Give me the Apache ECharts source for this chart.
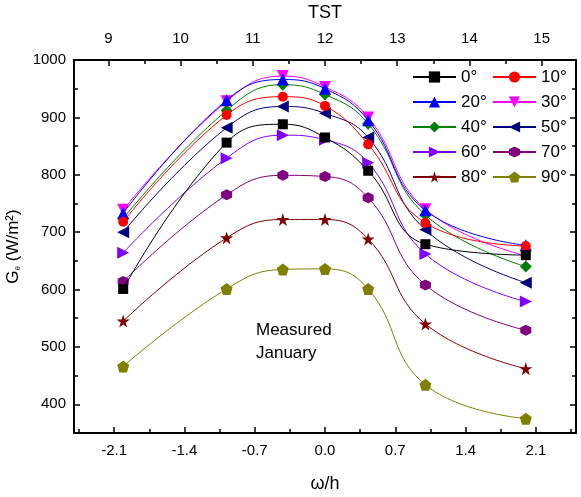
<!DOCTYPE html>
<html>
<head>
<meta charset="utf-8">
<script src="https://cdn.jsdelivr.net/npm/echarts@6/dist/echarts.min.js"></script>
<style>
  html, body { margin: 0; padding: 0; background: #fff; }
  #chart { width: 581px; height: 497px; }
</style>
</head>
<body>
<div id="chart"></div>
<script>
// Hour angle of each measurement (ω/h)
const omega = [-2.01, -0.98, -0.42, 0.0, 0.43, 1.0, 2.0];

// Measured irradiance on the tilted plane, W/m², one array per tilt angle
const g0  = [601, 856, 888, 865, 807, 679, 660];
const g10 = [718, 904, 936, 920, 853, 716, 676];
const g20 = [733, 930, 966, 950, 895, 738, 677];
const g30 = [739, 928, 972, 953, 900, 740, 659];
const g40 = [724, 912, 957, 940, 889, 730, 640];
const g50 = [700, 882, 919, 907, 865, 704, 612];
const g60 = [664, 829, 869, 861, 821, 662, 579];
const g70 = [614, 765, 799, 797, 760, 608, 529];
const g80 = [545, 690, 722, 722, 688, 540, 462];
const g90 = [466, 601, 635, 636, 601, 434, 375];

// Tilt angle labels
const tiltNames = ['0°', '10°', '20°', '30°', '40°', '50°', '60°', '70°', '80°', '90°'];

// Tick positions
const omegaTicks = [-2.1, -1.4, -0.7, 0.0, 0.7, 1.4, 2.1];
const omegaMinor = [-2.45, -1.75, -1.05, -0.35, 0.35, 1.05, 1.75, 2.45];
const tstTicks = [9, 10, 11, 12, 13, 14, 15];
const tstMinor = [9.5, 10.5, 11.5, 12.5, 13.5, 14.5];
const gTicks = [400, 500, 600, 700, 800, 900, 1000];
const gMinor = [450, 550, 650, 750, 850, 950];

const seriesValues = [g0, g10, g20, g30, g40, g50, g60, g70, g80, g90];

const colors = ['#000000', '#ff0000', '#0000ff', '#ff00ff', '#008000',
                '#000080', '#8000ff', '#800080', '#800000', '#808000'];

const star = 'path://M0,-1 L0.2245,-0.309 L0.951,-0.309 L0.363,0.118 L0.588,0.809 L0,0.382 L-0.588,0.809 L-0.363,0.118 L-0.951,-0.309 L-0.2245,-0.309 Z';
const pentagon = 'path://M0,-1 L0.951,-0.309 L0.588,0.809 L-0.588,0.809 L-0.951,-0.309 Z';
const hexagon = 'path://M0.866,-0.5 L0.866,0.5 L0,1 L-0.866,0.5 L-0.866,-0.5 L0,-1 Z';
const symbols = [
  'rect', 'circle', 'triangle',
  'path://M0,0 L2,0 L1,1.8 Z',
  'diamond',
  'path://M0,1 L1.8,0 L1.8,2 Z',
  'path://M0,0 L1.8,1 L0,2 Z',
  hexagon, star, pentagon
];
const sizes = [10, 10, 12, 12, 12, 12, 12, 11, 13, 12];

const FONT = 'Liberation Sans, Arial, sans-serif';

const series = seriesValues.map((vals, i) => ({
  name: tiltNames[i],
  type: 'line',
  xAxisIndex: 0,
  yAxisIndex: 0,
  data: omega.map((x, j) => [x, vals[j]]),
  smooth: 0.45,
  symbol: symbols[i],
  symbolSize: sizes[i],
  showAllSymbol: true,
  lineStyle: { color: colors[i], width: 1 },
  itemStyle: { color: colors[i] },
  emphasis: { disabled: true },
  animation: false,
  z: 2 + (9 - i) * 0.01
}));

const tickLine = { color: '#000', width: 1.5 };
const hiddenLine = { show: false, onZero: false };

function tickAxisBase(extra) {
  return Object.assign({
    type: 'value',
    splitLine: { show: false },
    axisLine: { show: true, onZero: false, lineStyle: { color: '#000', width: 2 } },
    axisTick: { show: true, inside: true, length: 6, lineStyle: tickLine },
    axisLabel: { show: false },
    gridIndex: 0
  }, extra);
}

const labelStyle = { fontFamily: FONT, fontSize: 15, color: '#000' };

const chart = echarts.init(document.getElementById('chart'), null, { renderer: 'canvas' });
chart.setOption({
  animation: false,
  backgroundColor: '#fff',
  grid: { left: 74, right: 5, top: 60, bottom: 64, containLabel: false, outerBoundsMode: 'none' },
  xAxis: [
    tickAxisBase({
      position: 'bottom', min: -2.5, max: 2.5,
      name: 'ω/h', nameLocation: 'middle', nameGap: 42,
      nameTextStyle: { fontFamily: FONT, fontSize: 18, color: '#000' },
      axisTick: { show: true, inside: true, length: 6, customValues: omegaTicks, lineStyle: tickLine },
      axisLabel: Object.assign({ show: true, customValues: omegaTicks, margin: 10,
                                 formatter: v => v.toFixed(1) }, labelStyle)
    }),
    tickAxisBase({
      position: 'bottom', min: -2.5, max: 2.5,
      axisLine: hiddenLine,
      axisTick: { show: true, inside: true, length: 4, customValues: omegaMinor, lineStyle: tickLine }
    }),
    tickAxisBase({
      position: 'top', min: 8.525, max: 15.475,
      name: 'TST', nameLocation: 'middle', nameGap: 38,
      nameTextStyle: { fontFamily: FONT, fontSize: 18, color: '#000' },
      axisTick: { show: true, inside: true, length: 6, customValues: tstTicks, lineStyle: tickLine },
      axisLabel: Object.assign({ show: true, customValues: tstTicks, margin: 14,
                                 formatter: v => String(v) }, labelStyle)
    }),
    tickAxisBase({
      position: 'top', min: 8.525, max: 15.475,
      axisLine: hiddenLine,
      axisTick: { show: true, inside: true, length: 4, customValues: tstMinor, lineStyle: tickLine }
    })
  ],
  yAxis: [
    tickAxisBase({
      position: 'left', min: 350, max: 1000,
      name: '{g|G}{s|θ}{n| (W/m²)}', nameLocation: 'middle', nameGap: 42, nameRotate: 90,
      nameTextStyle: {
        fontFamily: FONT, fontSize: 17, color: '#000',
        rich: {
          g: { fontFamily: FONT, fontSize: 17, color: '#000' },
          s: { fontFamily: FONT, fontSize: 8, color: '#000', padding: [9, 0, 0, 0] },
          n: { fontFamily: FONT, fontSize: 17, color: '#000' }
        }
      },
      axisTick: { show: true, inside: true, length: 6, customValues: gTicks, lineStyle: tickLine },
      axisLabel: Object.assign({ show: true, customValues: gTicks, margin: 8,
                                 formatter: v => String(v) }, labelStyle)
    }),
    tickAxisBase({
      position: 'left', min: 350, max: 1000,
      axisLine: hiddenLine,
      axisTick: { show: true, inside: true, length: 4, customValues: gMinor, lineStyle: tickLine }
    }),
    tickAxisBase({
      position: 'right', min: 350, max: 1000,
      axisTick: { show: true, inside: true, length: 6, customValues: gTicks, lineStyle: tickLine }
    }),
    tickAxisBase({
      position: 'right', min: 350, max: 1000,
      axisLine: hiddenLine,
      axisTick: { show: true, inside: true, length: 4, customValues: gMinor, lineStyle: tickLine }
    })
  ],
  legend: [
    {
      data: ['0°', '20°', '40°', '60°', '80°'],
      orient: 'vertical', left: 412, top: 67, padding: 0,
      itemWidth: 43, itemHeight: 14, itemGap: 5,
      selectedMode: false,
      textStyle: { fontFamily: FONT, fontSize: 17, color: '#000', lineHeight: 20 }
    },
    {
      data: ['10°', '30°', '50°', '70°', '90°'],
      orient: 'vertical', left: 492, top: 67, padding: 0,
      itemWidth: 43, itemHeight: 14, itemGap: 5,
      selectedMode: false,
      textStyle: { fontFamily: FONT, fontSize: 17, color: '#000', lineHeight: 20 }
    }
  ],
  graphic: [
    {
      type: 'text', left: 256, top: 319,
      style: { text: 'Measured\nJanuary', fontFamily: FONT, fontSize: 17,
               fill: '#000', lineHeight: 23 }
    }
  ],
  series: series
});
</script>
</body>
</html>
